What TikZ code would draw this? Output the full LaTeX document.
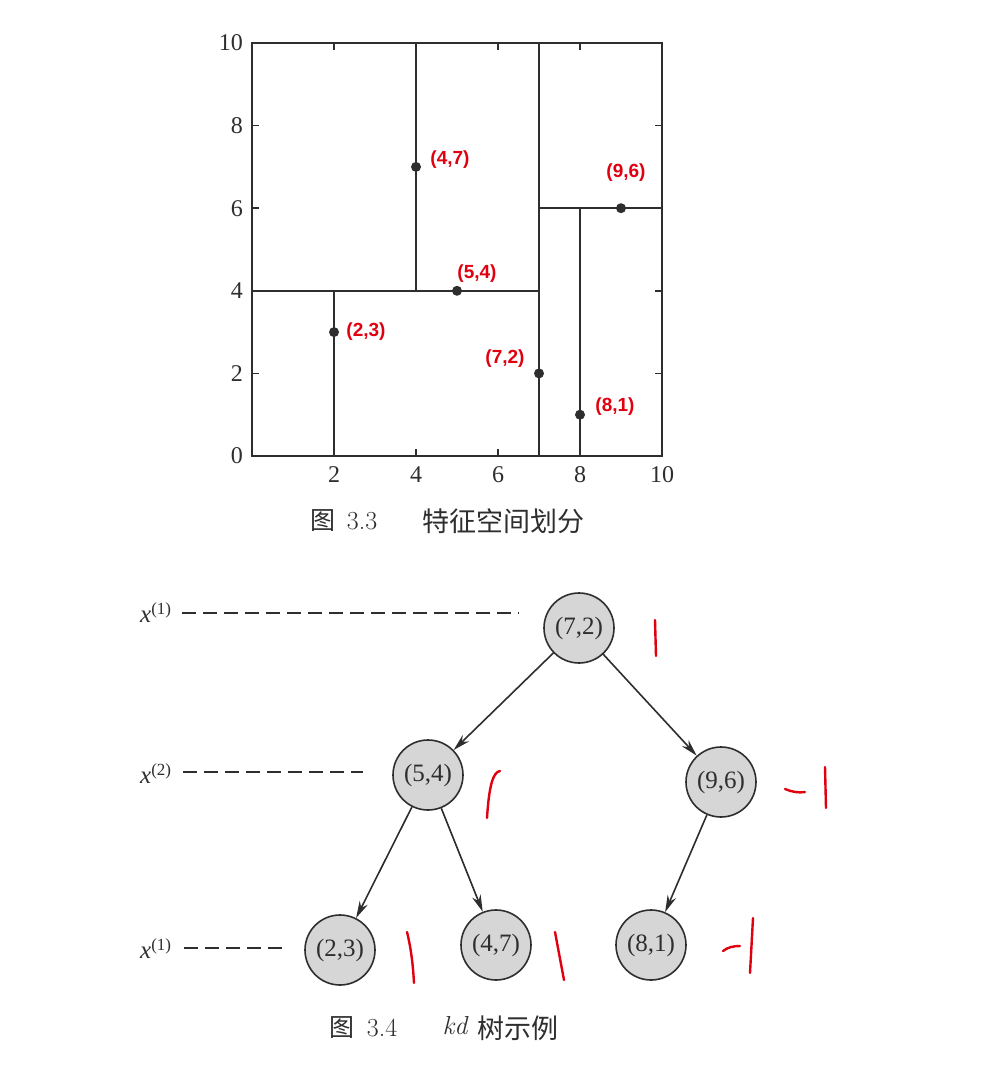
\documentclass[tikz,border=0pt]{standalone}
\usepackage{fontspec}
\newfontfamily\serif{Liberation Serif}
\newfontfamily\cjk{Noto Sans CJK SC}
\newfontfamily\hand{Liberation Sans}
\usetikzlibrary{arrows.meta}
\definecolor{ink}{HTML}{2E2E2E}
\definecolor{nodefill}{HTML}{D6D6D6}
\definecolor{pen}{HTML}{E00010}
\tikzset{
  axisline/.style={draw=ink, line width=1.8pt},
  ticklbl/.style={font=\fontsize{24}{24}\selectfont\serif, text=ink, inner sep=0pt},
  handlbl/.style={text=pen, font=\fontsize{19}{19}\selectfont\hand\bfseries, inner sep=0pt},
  treenode/.style={circle, draw=ink, fill=nodefill, line width=1.6pt, minimum size=70pt, inner sep=0pt, font=\fontsize{25}{25}\selectfont\serif, text=ink},
  treeedge/.style={draw=ink, line width=1.6pt, -{Stealth[length=17pt,width=9pt]}},
  levelline/.style={draw=ink, line width=1.7pt, dash pattern=on 14pt off 7pt},
  levellbl/.style={anchor=base west, inner sep=0pt, text=ink},
  penstroke/.style={draw=pen, line width=2.4pt, line cap=round},
  caplbl/.style={inner sep=0pt, text=ink},
}
\newcommand{\lvl}[1]{{\fontsize{25}{25}\selectfont\serif\itshape x}\raisebox{8pt}{\fontsize{17}{17}\selectfont\serif (#1)}}
\begin{document}
\begin{tikzpicture}[x=1pt,y=-1pt]
\fill[white] (0,0) rectangle (1000,1089);
\useasboundingbox (0,0) rectangle (1000,1089);

% ---------- feature space plot ----------
\begin{scope}[shift={(252,456)}, x=41pt, y=41.3pt]
  \draw[axisline] (0,0) rectangle (10,10);
  \foreach \t in {2,4,6,8}{
    \draw[axisline] (\t,0) -- ++(0,0.17);
    \draw[axisline] (\t,10) -- ++(0,-0.17);
    \draw[axisline] (0,\t) -- ++(0.17,0);
    \draw[axisline] (10,\t) -- ++(-0.17,0);
  }
  \foreach \t in {0,2,4,6,8,10}{
    \node[ticklbl, anchor=east] at (-0.22,\t) {\t};
  }
  \foreach \t in {2,4,6,8,10}{
    \node[ticklbl] at (\t,-0.46) {\t};
  }
  % partition lines
  \draw[axisline] (7,0) -- (7,10);
  \draw[axisline] (0,4) -- (7,4);
  \draw[axisline] (4,4) -- (4,10);
  \draw[axisline] (2,0) -- (2,4);
  \draw[axisline] (7,6) -- (10,6);
  \draw[axisline] (8,0) -- (8,6);
  % points
  \foreach \p in {(2,3),(5,4),(9,6),(4,7),(8,1),(7,2)}{
    \fill[ink] \p circle[radius=5pt];
  }
\end{scope}

% handwritten point labels
\node[handlbl] (h47) at (450,160) {(4,7)};
\node[handlbl] (h96) at (626,173) {(9,6)};
\node[handlbl] (h54) at (477,274) {(5,4)};
\node[handlbl] (h23) at (366,332) {(2,3)};
\node[handlbl] (h72) at (505,359) {(7,2)};
\node[handlbl] (h81) at (615,407) {(8,1)};

% caption 3.3
\node[caplbl, font=\fontsize{25}{25}\selectfont\cjk] (c1a) at (323,521) {图};
\node[caplbl, font=\fontsize{26}{26}\selectfont] (c1b) at (362,521) {3.3};
\node[caplbl, font=\fontsize{27}{27}\selectfont\cjk] (c1c) at (503,521) {特征空间划分};

% ---------- kd tree ----------
\node[treenode] (n72) at (579,628) {(7,2)};
\node[treenode] (n54) at (428,775) {(5,4)};
\node[treenode] (n96) at (721,782) {(9,6)};
\node[treenode] (n23) at (340,950) {(2,3)};
\node[treenode] (n47) at (496,945) {(4,7)};
\node[treenode] (n81) at (651,945) {(8,1)};

\draw[treeedge] (n72) -- (n54);
\draw[treeedge] (n72) -- (n96);
\draw[treeedge] (n54) -- (n23);
\draw[treeedge] (n54) -- (n47);
\draw[treeedge] (n96) -- (n81);

% level labels and dashed guides
\node[levellbl] (l1) at (140,622) {\lvl{1}};
\coordinate (l1a) at (182,613);
\coordinate (l1b) at (519,613);
\draw[levelline] (l1a) -- (l1b);

\node[levellbl] (l2) at (140,783) {\lvl{2}};
\coordinate (l2a) at (183,772);
\coordinate (l2b) at (363,772);
\draw[levelline] (l2a) -- (l2b);

\node[levellbl] (l3) at (140,958) {\lvl{1}};
\coordinate (l3a) at (184,948);
\coordinate (l3b) at (282,948);
\draw[levelline] (l3a) -- (l3b);

% handwritten marks
\draw[penstroke] (655,620) -- (656,656);
\draw[penstroke] (500,771) .. controls (493,772) and (489,786) .. (487,818);
\draw[penstroke] (785,789) .. controls (792,792) and (799,793) .. (805,792);
\draw[penstroke] (825,767) -- (826,808);
\draw[penstroke] (407,932) .. controls (411,948) and (413,965) .. (414,983);
\draw[penstroke] (555,932) -- (564,980);
\draw[penstroke] (723,951) .. controls (728,947) and (734,946) .. (740,946);
\draw[penstroke] (753,918) -- (750,973);

% caption 3.4
\node[caplbl, font=\fontsize{25}{25}\selectfont\cjk] (c2a) at (342,1028) {图};
\node[caplbl, font=\fontsize{26}{26}\selectfont] (c2b) at (382,1028) {3.4};
\node[caplbl, font=\fontsize{26}{26}\selectfont\itshape] (c2c) at (455,1026) {kd};
\node[caplbl, font=\fontsize{27}{27}\selectfont\cjk] (c2d) at (518,1028) {树示例};
\end{tikzpicture}
\end{document}
